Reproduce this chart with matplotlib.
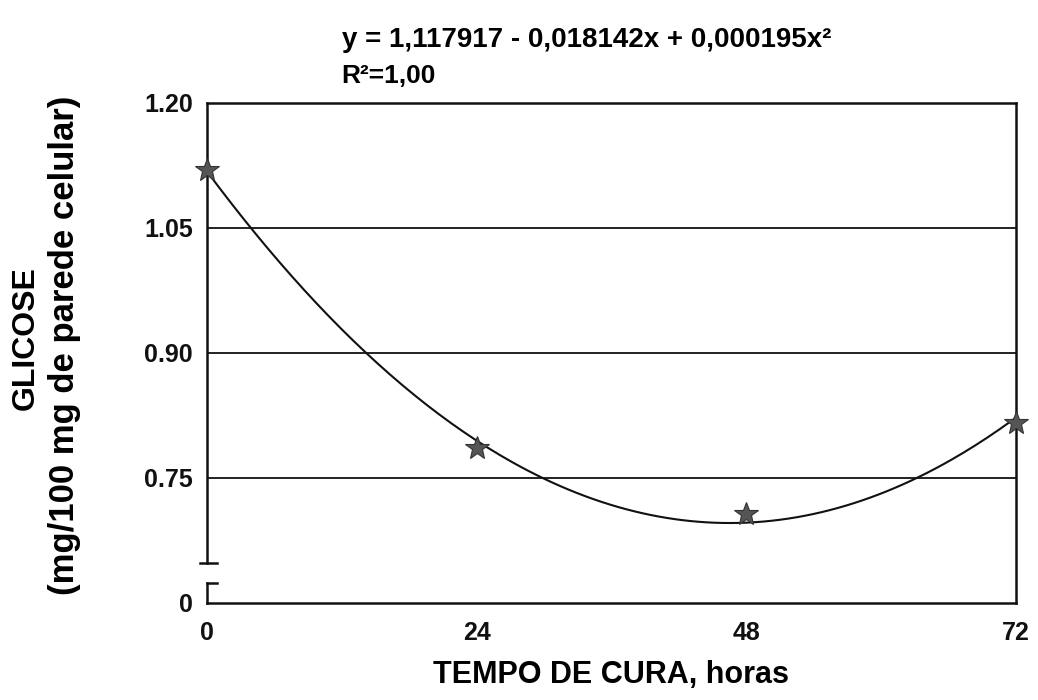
import numpy as np
import matplotlib
matplotlib.use("Agg")
import matplotlib.pyplot as plt
from matplotlib.transforms import blended_transform_factory

plt.rcParams['font.family'] = ['Liberation Sans', 'DejaVu Sans']
plt.rcParams['font.weight'] = 'bold'

# dados
horas = [0, 24, 48, 72]
glicose = [1.120, 0.786, 0.707, 0.816]

# coeficientes da equacao mostrada no grafico
b0 = 1.117917
b1 = -0.018142
b2 = 0.000195

y_ticks = [0.60, 0.75, 0.90, 1.05, 1.20]
y_labels = ['0', '0.75', '0.90', '1.05', '1.20']
grid_y = [0.75, 0.90, 1.05]
x_ticks = [0, 24, 48, 72]

fig = plt.figure(figsize=(10.38, 7.0), dpi=100)
ax = fig.add_axes([0.1994, 0.1386, 0.7794, 0.7143])

# curva ajustada
xc = np.linspace(0, 72, 200)
yc = b0 + b1 * xc + b2 * xc ** 2
ax.plot(xc, yc, color='#111111', lw=1.5, zorder=3)
ax.plot(horas, glicose, ls='none', marker='*', ms=18, color='#555555',
        markeredgecolor='#333333', markeredgewidth=0.8, zorder=4, clip_on=False)

for g in grid_y:
    ax.axhline(g, color='#111111', lw=1.3, zorder=1)

ax.set_xlim(0, 72)
ax.set_ylim(0.60, 1.20)
ax.set_xticks(x_ticks)
ax.set_yticks(y_ticks)
ax.set_yticklabels(y_labels)
ax.tick_params(length=0, labelsize=18, colors='#111111')
ax.tick_params(axis='y', pad=10)
ax.tick_params(axis='x', pad=13)

for s in ['top', 'right', 'bottom']:
    ax.spines[s].set_linewidth(1.8)
    ax.spines[s].set_color('#111111')
ax.spines['left'].set_visible(False)

# eixo y com quebra
tr = blended_transform_factory(ax.transAxes, ax.transData)
ax.plot([0, 0], [0.648, 1.20], transform=tr, color='#111111', lw=1.8, clip_on=False)
ax.plot([-0.009, 0.012], [0.648, 0.648], transform=tr, color='#111111', lw=1.8, clip_on=False)
ax.plot([0, 0], [0.60, 0.624], transform=tr, color='#111111', lw=1.8, clip_on=False)
ax.plot([0, 0.012], [0.624, 0.624], transform=tr, color='#111111', lw=1.8, clip_on=False)

ax.set_xlabel('TEMPO DE CURA, horas', fontsize=22, fontweight='bold', labelpad=11)
fig.text(0.025, 0.517, 'GLICOSE', rotation=90, fontsize=23, fontweight='bold',
         ha='center', va='center')
fig.text(0.062, 0.506, '(mg/100 mg de parede celular)', rotation=90, fontsize=25,
         fontweight='bold', ha='center', va='center')

fig.text(0.329, 0.943, 'y = 1,117917 - 0,018142x + 0,000195x²', fontsize=20,
         fontweight='bold', ha='left', va='center')
fig.text(0.329, 0.891, 'R²=1,00', fontsize=19, fontweight='bold', ha='left', va='center')

fig.savefig('out.png', dpi=100)
